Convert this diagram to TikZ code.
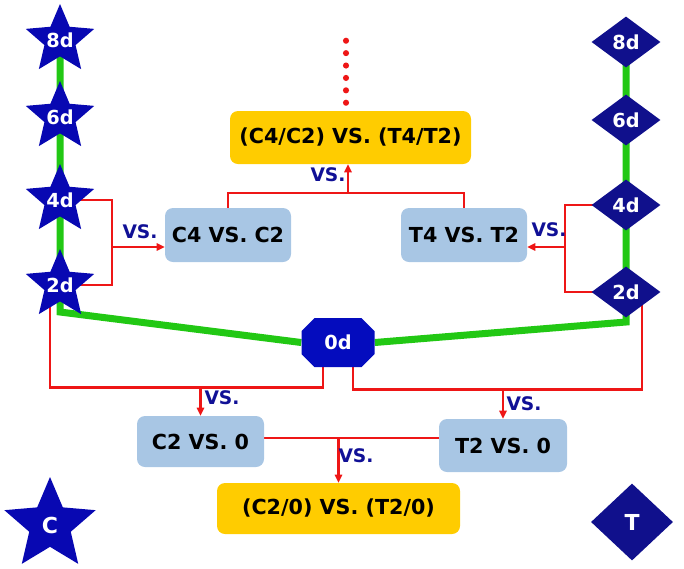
\documentclass[tikz,border=0pt]{standalone}
\usepackage{fontspec}
\setmainfont{DejaVu Sans}
\usetikzlibrary{shapes.geometric,arrows.meta,calc}
\definecolor{starblue}{RGB}{8,8,178}
\definecolor{diablue}{RGB}{16,16,140}
\definecolor{octblue}{RGB}{4,12,190}
\definecolor{boxblue}{RGB}{168,198,228}
\definecolor{boxyellow}{RGB}{255,204,0}
\definecolor{lgreen}{RGB}{34,200,20}
\definecolor{lred}{RGB}{238,22,22}
\definecolor{vsblue}{RGB}{16,16,150}
\pgfdeclarelayer{background}
\pgfsetlayers{background,main}
\begin{document}
\begin{tikzpicture}[x=0.75pt,y=-0.75pt,
  shapelbl/.style={text=white, font=\fontsize{14.5}{16}\selectfont\bfseries, inner sep=0pt},
  biglbl/.style={text=white, font=\fontsize{16.5}{18}\selectfont\bfseries, inner sep=0pt},
  mystar/.style={star, star points=5, star point ratio=2.2, fill=starblue, draw=none,
    inner sep=0pt, minimum size=54pt, label={[shapelbl]center:#1}},
  mydia/.style={diamond, fill=diablue, draw=none, inner sep=0pt,
    minimum width=51.75pt, minimum height=38.25pt, label={[shapelbl]center:#1}},
  boxtxt/.style={rounded corners=6pt, inner sep=0pt, text=black,
    font=\fontsize{15.5}{18}\selectfont\bfseries},
  bluebox/.style={boxtxt, fill=boxblue},
  yellowbox/.style={boxtxt, fill=boxyellow},
  vslbl/.style={text=vsblue, font=\fontsize{14}{16}\selectfont\bfseries, inner sep=0pt},
  redline/.style={draw=lred, line width=2.1pt},
  redarrow/.style={redline, -{Triangle[length=6pt,width=5.5pt]}},
  greenline/.style={draw=lgreen, line width=5.25pt, line join=miter}
]
\useasboundingbox (0,0) rectangle (684,568);

% stars (C group)
\node[mystar=8d] (s8) at (60,40) {};
\node[mystar=6d] (s6) at (60,117) {};
\node[mystar=4d] (s4) at (60,200) {};
\node[mystar=2d] (s2) at (60,285) {};
% diamonds (T group)
\node[mydia=8d] (d8) at (626,42) {};
\node[mydia=6d] (d6) at (626,120) {};
\node[mydia=4d] (d4) at (626,205) {};
\node[mydia=2d] (d2) at (626,292) {};

% octagon 0d
\coordinate (oc) at (338,342.5);
\fill[octblue] (oc) ++(-23.5,-24.5) -- ++(47,0) -- ++(13,13) -- ++(0,23)
  -- ++(-13,13) -- ++(-47,0) -- ++(-13,-13) -- ++(0,-23) -- cycle;
\node[shapelbl, minimum width=54.75pt, minimum height=36.75pt] (o0) at (oc) {0d};

% boxes
\node[bluebox, minimum width=94.5pt, minimum height=40.5pt] (c4) at (228,235) {C4 VS. C2};
\node[bluebox, minimum width=94.5pt, minimum height=40.5pt] (t4) at (464,235) {T4 VS. T2};
\node[yellowbox, minimum width=180.75pt, minimum height=39.75pt] (y1) at (350.5,137.5) {(C4/C2) VS. (T4/T2)};
\node[bluebox, minimum width=95.25pt, minimum height=38.25pt] (c2) at (200.5,441.5) {C2 VS. 0};
\node[bluebox, minimum width=96pt, minimum height=39.75pt] (t2) at (503,445.5) {T2 VS. 0};
\node[yellowbox, minimum width=182.25pt, minimum height=38.25pt] (y2) at (338.5,508.5) {(C2/0) VS. (T2/0)};

% legend shapes
\node[star, star points=5, star point ratio=2.2, fill=starblue, inner sep=0pt,
  minimum size=72pt, label={[biglbl]center:C}] (cl) at (50,525) {};
\node[diamond, fill=diablue, inner sep=0pt, minimum width=61.5pt, minimum height=57.75pt,
  label={[biglbl]center:T}] (tl) at (632,522) {};

% VS labels
\node[vslbl] (v1) at (140,232) {VS.};
\node[vslbl] (v2) at (549,230) {VS.};
\node[vslbl] (v3) at (328,175) {VS.};
\node[vslbl] (v4) at (222,398) {VS.};
\node[vslbl] (v5) at (524,404) {VS.};
\node[vslbl] (v6) at (356,456) {VS.};

\begin{pgfonlayer}{background}
  % green time lines
  \coordinate (gL) at (60,312);
  \coordinate (gR) at (626,322);
  \draw[greenline] (s8.center) -- (gL) -- (o0.west);
  \draw[greenline] (d8.center) -- (gR) -- (o0.east);
  % left bracket
  \coordinate (LB) at (112,247);
  \draw[redline] (s4.center) -| (LB) |- (s2.center);
  \draw[redarrow] (LB) -- (LB -| c4.west);
  % right bracket
  \coordinate (RB) at (565,247);
  \draw[redline] (d4.center) -| (RB) |- (d2.center);
  \draw[redarrow] (RB) -- (RB -| t4.east);
  % top combination
  \coordinate (TB) at (348,193);
  \draw[redline] (c4.north) |- (TB) -| (t4.north);
  \draw[redarrow] (TB) -- (TB |- y1.south);
  % dotted continuation
  \foreach \i in {0,...,5}
    \fill[lred] ($(y1.north)+(-4.5,-70+12.4*\i)$) circle (2.3pt);
  % bottom left
  \coordinate (BLy) at (0,387);
  \draw[redline] ($(s2.center)+(-10,0)$) |- ($(o0.south)+(-15,20)$) -- ($(o0.south)+(-15,0)$);
  \draw[redarrow] (c2.north |- BLy) -- (c2.north);
  % bottom right
  \coordinate (BRy) at (0,389);
  \draw[redline] ($(o0.south)+(15,0)$) -- ($(o0.south)+(15,22)$) -| ($(d2.center)+(16,0)$);
  \draw[redarrow] (t2.north |- BRy) -- (t2.north);
  % bottom combination
  \coordinate (BMy) at (0,438);
  \draw[redline] (c2.east |- BMy) -- (t2.west |- BMy);
  \draw[redarrow] (y2.north |- BMy) -- (y2.north);
\end{pgfonlayer}
\end{tikzpicture}
\end{document}
